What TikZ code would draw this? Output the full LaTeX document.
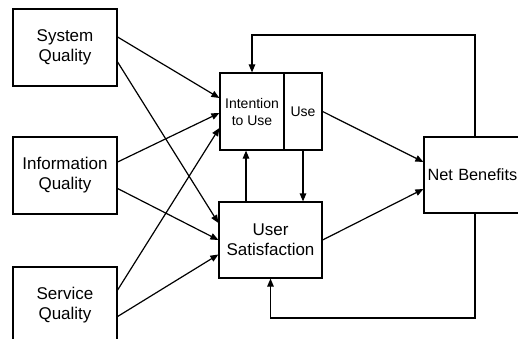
\documentclass[tikz,border=0pt]{standalone}
\usepackage{fontspec}
\setmainfont{Liberation Sans}
\usetikzlibrary{arrows.meta}

\begin{document}
\begin{tikzpicture}[x=1pt,y=-1pt,line width=1.2pt,
    box/.style={draw,rectangle,align=center,inner sep=0pt,font=\fontsize{17}{20}\selectfont},
    arr/.style={-{Triangle[length=8pt,width=6.5pt]}}]
  \useasboundingbox (0,0) rectangle (518,339);
  \clip (0,0) rectangle (518,339);
  % quality boxes
  \foreach \nm/\y/\txt in {sq/47.5/System\\Quality,iq/175.5/Information\\Quality,svq/305.5/Service\\Quality}
    \node[box,minimum width=104pt,minimum height=77pt] (\nm) at (65,\y) {\txt};
  % use, satisfaction, benefits
  \node[box,minimum width=64pt,minimum height=77pt,font=\fontsize{14}{17}\selectfont] (intent) at (252,111.5) {Intention\\to Use};
  \node[box,minimum width=38pt,minimum height=77pt,font=\fontsize{14}{17}\selectfont] (use) at (303,111.5) {Use};
  \node[box,minimum width=103pt,minimum height=76pt] (us) at (270.5,240) {User\\Satisfaction};
  \node[box,minimum width=102pt,minimum height=76pt,text width=100pt,align=left,font=\fontsize{16.3}{20}\selectfont] (nb) at (475,175) {\hspace*{2.5pt}Net Benefits};
  % inputs
  \draw[arr] ([yshift=10.5pt]sq.east) -- ([yshift=13.5pt]intent.west);
  \draw[arr] ([yshift=-14.5pt]sq.east) -- ([yshift=17pt]us.west);
  \draw[arr] ([yshift=13.5pt]iq.east) -- ([yshift=-1.5pt]intent.west);
  \draw[arr] ([yshift=-13pt]iq.east) -- (us.west);
  \draw[arr] ([yshift=15.5pt]svq.east) -- ([yshift=-16.5pt]intent.west);
  \draw[arr] ([yshift=-11pt]svq.east) -- ([yshift=-14.5pt]us.west);
  % between use and satisfaction
  \draw[arr] ([xshift=-24.5pt]us.north) -- ([xshift=-24.5pt]us.north |- intent.south);
  \draw[arr] (use.south) -- (use.south |- us.north);
  % to net benefits
  \draw[arr] (use.east) -- ([yshift=13pt]nb.west);
  \draw[arr] (us.east) -- ([yshift=-14pt]nb.west);
  % feedback
  \coordinate (top) at (252,35);
  \coordinate (bot) at (270.5,318);
  \draw[arr] (nb.north) |- (top) -- (intent.north);
  \draw[arr] (nb.south) |- (bot) -- (us.south);
\end{tikzpicture}
\end{document}
